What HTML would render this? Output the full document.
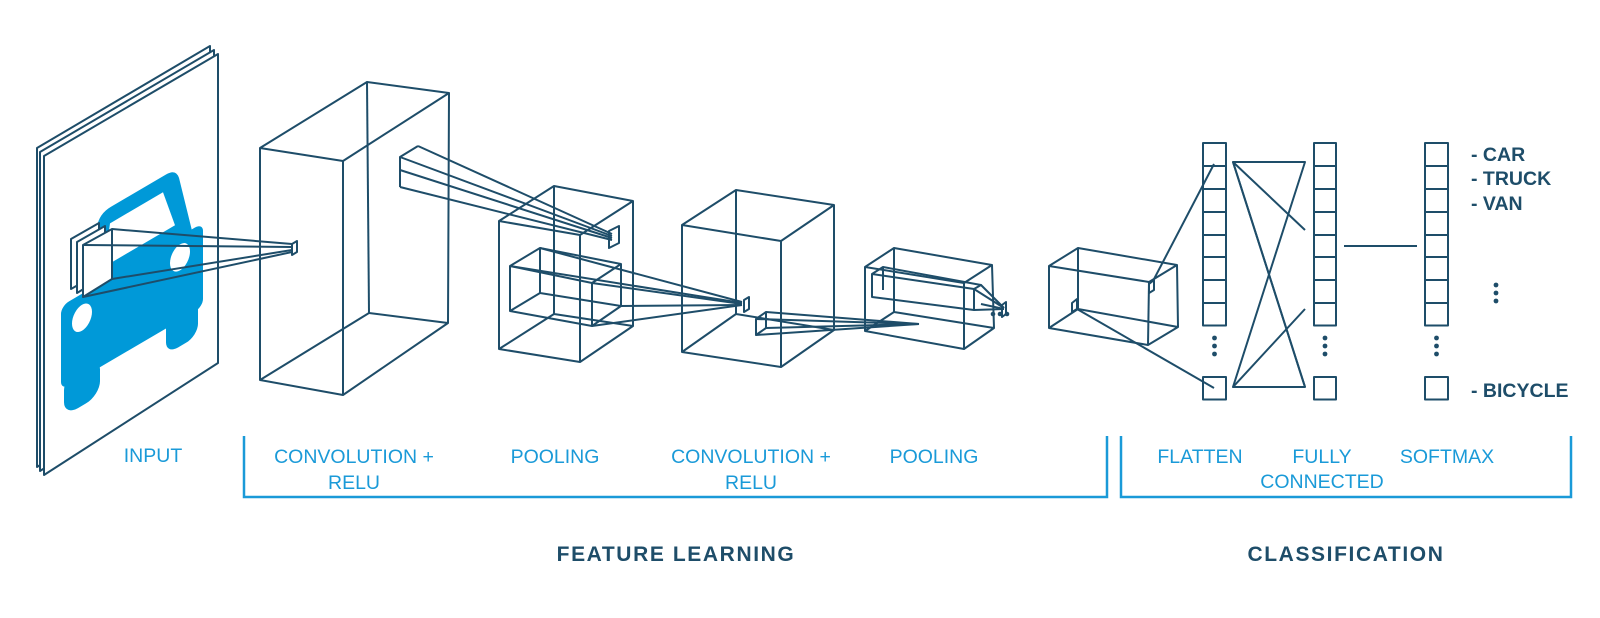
<!DOCTYPE html>
<html><head><meta charset="utf-8"><style>
html,body{margin:0;padding:0;background:#fff;width:1600px;height:618px;overflow:hidden}
svg{display:block}
.l{fill:none;stroke:#1e4d69;stroke-width:2;stroke-linejoin:round}
.w{fill:#fff;stroke:#1e4d69;stroke-width:2;stroke-linejoin:round}
.b{fill:none;stroke:#1a9ad8;stroke-width:2.5}
.lab{font-family:"Liberation Sans",sans-serif;font-size:19.5px;fill:#1a9ad8;text-anchor:middle}
.hd{font-family:"Liberation Sans",sans-serif;font-size:21px;font-weight:bold;fill:#1e4d69;text-anchor:middle;letter-spacing:1.6px}
.out{font-family:"Liberation Sans",sans-serif;font-size:19.5px;font-weight:bold;fill:#1e4d69}
</style></head><body>
<svg width="1600" height="618" viewBox="0 0 1600 618">
<polygon class="w" points="37,148 210,46 210,357 37,467"/>
<polygon class="w" points="40,152 214,50 214,360 40,471"/>
<polygon class="w" points="44,156 218,54 218,363 44,475"/>
<g transform="matrix(1,-0.586,0,1,0,25.8)">
 <path fill="#0099d8" d="M88,322 L97,258 Q99,246 111,246 L166,246 Q176,246 179,257 L193,322 Z"/>
 <rect fill="#0099d8" x="61" y="316" width="142" height="84" rx="8"/>
 <rect fill="#0099d8" x="64" y="388" width="36" height="40" rx="14"/>
 <rect fill="#0099d8" x="166" y="388" width="32" height="38" rx="12"/>
 <path fill="#fff" d="M104,302 L110,262 L163,262 L175,302 Z"/>
 <ellipse fill="#fff" cx="82" cy="340" rx="10" ry="13"/>
 <ellipse fill="#fff" cx="180" cy="337" rx="10" ry="13"/>
</g>
<polygon class="w" points="71,239 99,223 99,273 71,289"/>
<polygon class="w" points="77,242 105,226 105,276 77,293"/>
<polygon class="w" points="83,245 112,229 112,279 83,297"/>
<line class="l" x1="83" y1="245" x2="292" y2="247"/>
<line class="l" x1="112" y1="229" x2="292" y2="244"/>
<line class="l" x1="112" y1="279" x2="292" y2="250"/>
<line class="l" x1="83" y1="297" x2="292" y2="252"/>
<polygon class="l" points="292,244 297,241 297,252 292,255"/>
<g class="l">
<polygon points="260,148 367,82 449,93 448,323 343,395 260,380"/>
<line x1="260" y1="148" x2="343" y2="161"/><line x1="343" y1="161" x2="449" y2="93"/><line x1="343" y1="161" x2="343" y2="395"/>
<line x1="367" y1="82" x2="369" y2="313"/><line x1="369" y1="313" x2="448" y2="323"/><line x1="369" y1="313" x2="260" y2="380"/>
<polyline points="400,187 400,157 418,146"/>
<line x1="418" y1="146" x2="612" y2="234"/><line x1="400" y1="157" x2="612" y2="236"/><line x1="400" y1="170" x2="612" y2="238"/><line x1="400" y1="187" x2="612" y2="240"/>
<polygon points="609,231 619,226 619,243 609,248"/>
</g>
<g class="l">
<polygon points="499,221 554,186 633,201 633,326 580,362 499,349"/>
<polyline points="499,221 580,235 633,201"/><line x1="580" y1="235" x2="580" y2="362"/>
<polyline points="554,186 554,314 633,326"/><line x1="554" y1="314" x2="499" y2="349"/>
<polygon points="510,266 540,248 621,264 621,306 592,326 510,311"/>
<polyline points="510,266 592,283 621,264"/><line x1="592" y1="283" x2="592" y2="326"/>
<polyline points="540,248 540,293 621,306"/><line x1="540" y1="293" x2="510" y2="311"/>
<line x1="540" y1="248" x2="742" y2="302"/><line x1="510" y1="266" x2="742" y2="303"/><line x1="592" y1="283" x2="742" y2="304"/><line x1="592" y1="326" x2="742" y2="305"/><line x1="621" y1="306" x2="742" y2="305"/>
<polygon points="744,300 749,297 749,309 744,312"/>
</g>
<g class="l">
<polygon points="682,225 736,190 834,205 834,330 781,367 682,352"/>
<polyline points="682,225 781,241 834,205"/><line x1="781" y1="241" x2="781" y2="367"/>
<polyline points="736,190 736,314 834,330"/><line x1="736" y1="314" x2="682" y2="352"/>
<polygon points="756,319 766,312 766,328 756,335"/>
<line x1="766" y1="312" x2="919" y2="324"/><line x1="756" y1="319" x2="919" y2="324"/><line x1="766" y1="328" x2="919" y2="324"/><line x1="756" y1="335" x2="919" y2="324"/>
</g>
<g class="l">
<polygon points="865,267 894,248 992,265 994,328 964,349 865,331"/>
<polyline points="865,267 964,283 992,265"/><line x1="964" y1="283" x2="964" y2="349"/>
<polyline points="894,248 894,312 994,328"/><line x1="894" y1="312" x2="865" y2="331"/>
<polygon points="872,274 883,267 981,285 974,289 974,310 872,297"/>
<line x1="872" y1="274" x2="974" y2="289"/><line x1="883" y1="267" x2="883" y2="290"/>
<line x1="974" y1="289" x2="1004" y2="308"/><line x1="981" y1="285" x2="1004" y2="308"/><line x1="974" y1="310" x2="1004" y2="309"/><line x1="981" y1="304" x2="1004" y2="309"/>
<polygon points="1002,305 1006,302 1006,314 1002,317"/>
</g>
<g fill="#1e4d69"><circle cx="993" cy="314" r="2.3"/><circle cx="1000" cy="314" r="2.3"/><circle cx="1007" cy="314" r="2.3"/></g>
<g class="l">
<polygon points="1049,266 1078,248 1177,265 1178,327 1148,345 1049,328"/>
<polyline points="1049,266 1149,282 1177,265"/><line x1="1149" y1="282" x2="1148" y2="345"/>
<polyline points="1078,248 1078,309 1178,327"/><line x1="1078" y1="309" x2="1049" y2="328"/>
<polygon points="1149,284 1154,280 1154,290 1149,293"/>
<polygon points="1072,303 1077,299 1077,309 1072,312"/>
<line x1="1153" y1="281" x2="1214" y2="164"/><line x1="1077" y1="309" x2="1214" y2="388"/>
</g>
<g class="l">
<rect x="1203" y="143" width="23" height="182.5"/>
<line x1="1203" y1="166" x2="1226" y2="166"/><line x1="1203" y1="189" x2="1226" y2="189"/><line x1="1203" y1="212" x2="1226" y2="212"/><line x1="1203" y1="235" x2="1226" y2="235"/><line x1="1203" y1="257" x2="1226" y2="257"/><line x1="1203" y1="280" x2="1226" y2="280"/><line x1="1203" y1="303" x2="1226" y2="303"/>
<rect x="1203" y="377" width="23" height="22.5"/>
<rect x="1314" y="143" width="22" height="182.5"/>
<line x1="1314" y1="166" x2="1336" y2="166"/><line x1="1314" y1="189" x2="1336" y2="189"/><line x1="1314" y1="212" x2="1336" y2="212"/><line x1="1314" y1="235" x2="1336" y2="235"/><line x1="1314" y1="257" x2="1336" y2="257"/><line x1="1314" y1="280" x2="1336" y2="280"/><line x1="1314" y1="303" x2="1336" y2="303"/>
<rect x="1314" y="377" width="22" height="22.5"/>
<rect x="1425" y="143" width="23" height="182.5"/>
<line x1="1425" y1="166" x2="1448" y2="166"/><line x1="1425" y1="189" x2="1448" y2="189"/><line x1="1425" y1="212" x2="1448" y2="212"/><line x1="1425" y1="235" x2="1448" y2="235"/><line x1="1425" y1="257" x2="1448" y2="257"/><line x1="1425" y1="280" x2="1448" y2="280"/><line x1="1425" y1="303" x2="1448" y2="303"/>
<rect x="1425" y="377" width="23" height="22.5"/>
<polygon points="1233,162 1305,162 1233,387 1305,387"/>
<line x1="1233" y1="162" x2="1305" y2="387"/>
<line x1="1233" y1="162" x2="1305" y2="230"/><line x1="1233" y1="387" x2="1305" y2="309"/>
<line x1="1344" y1="246" x2="1417" y2="246"/>
</g>
<g fill="#1e4d69">
<circle cx="1214.5" cy="338" r="2.4"/><circle cx="1214.5" cy="346" r="2.4"/><circle cx="1214.5" cy="354" r="2.4"/>
<circle cx="1325" cy="338" r="2.4"/><circle cx="1325" cy="346" r="2.4"/><circle cx="1325" cy="354" r="2.4"/>
<circle cx="1436.5" cy="338" r="2.4"/><circle cx="1436.5" cy="346" r="2.4"/><circle cx="1436.5" cy="354" r="2.4"/>
<circle cx="1496" cy="285" r="2.4"/><circle cx="1496" cy="293" r="2.4"/><circle cx="1496" cy="301" r="2.4"/>
</g>
<text class="out" x="1471" y="161">- CAR</text>
<text class="out" x="1471" y="185">- TRUCK</text>
<text class="out" x="1471" y="210">- VAN</text>
<text class="out" x="1471" y="397">- BICYCLE</text>
<polyline class="b" points="244,436 244,497 1107,497 1107,436"/>
<polyline class="b" points="1121,436 1121,497 1571,497 1571,436"/>
<text class="lab" x="153" y="462">INPUT</text>
<text class="lab" x="354" y="463">CONVOLUTION +</text>
<text class="lab" x="354" y="489">RELU</text>
<text class="lab" x="555" y="463">POOLING</text>
<text class="lab" x="751" y="463">CONVOLUTION +</text>
<text class="lab" x="751" y="489">RELU</text>
<text class="lab" x="934" y="463">POOLING</text>
<text class="lab" x="1200" y="463">FLATTEN</text>
<text class="lab" x="1322" y="463">FULLY</text>
<text class="lab" x="1322" y="488">CONNECTED</text>
<text class="lab" x="1447" y="463">SOFTMAX</text>
<text class="hd" x="676" y="561">FEATURE LEARNING</text>
<text class="hd" x="1346" y="561">CLASSIFICATION</text>
</svg>
</body></html>
